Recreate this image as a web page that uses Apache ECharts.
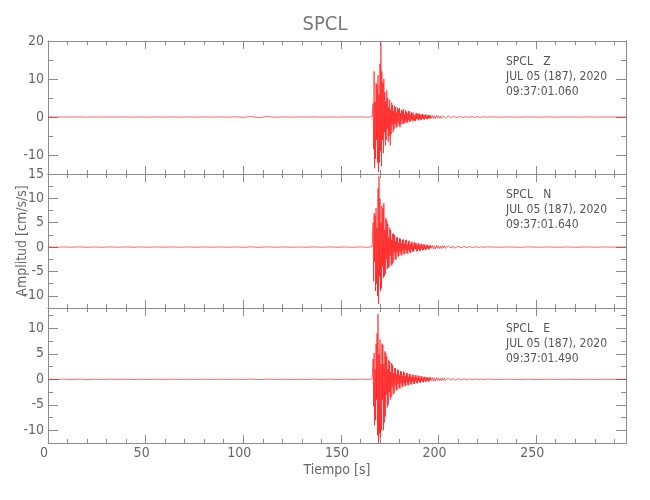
<!DOCTYPE html>
<html><head><meta charset="utf-8">
<script src="https://cdn.jsdelivr.net/npm/echarts@6/dist/echarts.min.js"></script>
<style>html,body{margin:0;padding:0;background:#fff}#c{width:650px;height:500px}</style>
</head><body><div id="c"></div>
<script>
// ---- time segments (start, step) ----
const preStart = 0, preStep = 4;
const eventStart = 166, eventStep = 0.25;
const tailStart = 196, tailStep = 0.5;
const lateStart = 226, lateStep = 5;

// ---- Z component ----
const zPre = [0.02,-0.03,0.03,-0.02,0.03,-0.03,0.02,-0.03,0.03,-0.02,
  0.03,-0.03,0.02,-0.03,0.03,-0.02,0.03,-0.03,0.02,-0.03,
  0.03,-0.02,0.03,-0.04,0.06,-0.1,0.15,-0.2,0.15,-0.08,
  0.04,-0.03,0.03,-0.02,0.03,-0.03,0.02,-0.03,0.03,-0.02,
  0.03,-0.04];
const zEvent = [
  0.1,-0.2,3.5,-8.5,  12,-13.5,4,-11,  9,-6,8.5,-12,  11,-14.5,6,-12,
  14,-9,19.5,-13,  12,-6,9,-9.5,  10,-4,6.5,-7.5,  4,-6,7,-3,
  5,-6.5,2.5,-5,  4.5,-7.5,2,-4.5,  3.8,-2,3.2,-4,  1.5,-3.2,3,-1.8,
  2.6,-2.8,1.2,-2.6,  2.5,-1.4,2,-2.2,  2.4,-2.7,1,-2,  1.9,-0.9,1.6,-1.9,
  2.1,-1.7,0.8,-1.6,  1.8,-1,1.4,-1.6,  0.9,-1.4,1.6,-0.8,  1.5,-1.3,0.7,-1.1,
  1.3,-0.6,1.0,-1.1,  1.2,-0.9,0.5,-1.0,  0.6,-1.0,1.1,-0.5,  0.9,-0.6,0.8,-0.9,
  1.0,-0.5,0.7,-0.8,  0.5,-0.7,0.7,-0.4,  0.8,-0.5,0.4,-0.7,  0.6,-0.3,0.7,-0.5,
  0.3,-0.6,0.5,-0.4,  0.5,-0.3,0.4,-0.5];
const zTail = [0.45,-0.3,0.4,-0.45,0.25,-0.4,0.4,-0.2,0.35,-0.35,
  0.2,-0.35,0.3,-0.2,0.35,-0.3,0.15,-0.3,0.3,-0.2,
  0.25,-0.15,0.25,-0.25,0.12,-0.22,0.2,-0.15,0.22,-0.18,
  0.12,-0.18,0.18,-0.1,0.15,-0.16,0.1,-0.14,0.14,-0.1,
  0.12,-0.08,0.12,-0.12,0.07,-0.1,0.1,-0.07,0.09,-0.08,
  0.06,-0.08,0.08,-0.05,0.07,-0.06,0.05,-0.06,0.06,-0.05];
const zLate = [0.04,-0.04,0.03,-0.04,0.03,-0.03,0.03,-0.03,0.02,-0.03,0.03,-0.02,0.02,-0.02,0.02];

// ---- N component ----
const nPre = [0.02,-0.03,0.03,-0.02,0.03,-0.03,0.02,-0.03,0.03,-0.02,
  0.03,-0.03,0.02,-0.03,0.03,-0.02,0.03,-0.03,0.02,-0.03,
  0.03,-0.02,0.03,-0.03,0.04,-0.05,0.06,-0.06,0.05,-0.04,
  0.03,-0.03,0.02,-0.03,0.03,-0.02,0.03,-0.03,0.02,-0.03,
  0.03,-0.04];
const nEvent = [
  0.1,-0.2,5,-7,  7,-3,6.5,-9,  8,-7.5,4,-10,  12,-11.7,14.5,-6,
  10,-9,5,-8.5,  8.5,-4,8,-6.3,  9,-6,3.5,-5.5,  6,-2.5,5.5,-4.5,
  4.8,-4.3,2,-4,  4,-1.8,3.5,-3.8,  1.5,-3.6,2.7,-3.2,  2.8,-1.2,2.5,-2.6,
  1.2,-2.5,2,-1.1,  2,-2,0.9,-1.8,  1.8,-0.9,1.7,-1.6,  0.8,-1.7,1.5,-0.7,
  1.6,-1.4,0.7,-1.5,  1.4,-0.6,1.5,-1.2,  0.6,-1.4,1.2,-0.6,  1.3,-1.1,0.6,-1.2,
  1.1,-0.5,1.0,-1.0,  0.5,-0.9,1.0,-0.5,  0.9,-0.4,0.8,-0.9,  0.4,-0.8,0.8,-0.4,
  0.7,-0.8,0.3,-0.7,  0.7,-0.3,0.6,-0.7,  0.3,-0.6,0.6,-0.3,  0.5,-0.6,0.2,-0.5,
  0.5,-0.2,0.45,-0.5,  0.2,-0.4,0.4,-0.2];
const nTail = [0.4,-0.25,0.35,-0.4,0.2,-0.35,0.35,-0.2,0.3,-0.3,
  0.18,-0.3,0.3,-0.18,0.28,-0.25,0.15,-0.25,0.25,-0.15,
  0.2,-0.2,0.22,-0.14,0.12,-0.2,0.18,-0.12,0.16,-0.15,
  0.1,-0.15,0.14,-0.1,0.12,-0.12,0.08,-0.12,0.1,-0.08,
  0.1,-0.07,0.09,-0.1,0.06,-0.08,0.08,-0.06,0.07,-0.07,
  0.05,-0.07,0.06,-0.05,0.06,-0.05,0.04,-0.05,0.05,-0.04];
const nLate = [0.04,-0.03,0.03,-0.04,0.03,-0.03,0.03,-0.03,0.02,-0.03,0.03,-0.02,0.02,-0.02,0.02];

// ---- E component ----
const ePre = [0.02,-0.03,0.03,-0.02,0.03,-0.03,0.02,-0.03,0.03,-0.02,
  0.03,-0.03,0.02,-0.03,0.03,-0.02,0.03,-0.03,0.02,-0.03,
  0.03,-0.02,0.03,-0.03,0.04,-0.05,0.06,-0.07,0.05,-0.04,
  0.03,-0.03,0.02,-0.03,0.03,-0.02,0.03,-0.03,0.02,-0.03,
  0.03,-0.04];
const eEvent = [
  0.1,-0.2,4,-5.3,  5.2,-9,2,-8,  7,-4,9,-11,  12.8,-12.6,5,-10.6,
  7.8,-11.6,3,-10,  7,-4,6.8,-10,  3,-8.5,5.5,-7.3,  5.2,-3,4.5,-5.5,
  2,-5,3.8,-2.5,  3.5,-4,1.5,-3.5,  3.2,-1.5,2.8,-3,  1.2,-2.7,2.2,-1.2,
  2.2,-2.2,1,-2.1,  1.9,-0.9,1.8,-1.8,  0.8,-1.8,1.6,-0.8,  1.5,-1.6,0.7,-1.4,
  1.5,-0.7,1.3,-1.3,  0.6,-1.3,1.2,-0.6,  1.2,-1.1,0.5,-1.2,  1.1,-0.5,1.0,-1.0,
  0.5,-1.0,0.9,-0.4,  0.9,-0.9,0.4,-0.9,  0.8,-0.4,0.8,-0.7,  0.3,-0.8,0.7,-0.3,
  0.7,-0.6,0.3,-0.7,  0.6,-0.3,0.6,-0.5,  0.2,-0.6,0.5,-0.2,  0.5,-0.5,0.2,-0.45,
  0.45,-0.2,0.4,-0.45,  0.2,-0.4,0.4,-0.15];
const eTail = [0.38,-0.25,0.35,-0.38,0.2,-0.32,0.32,-0.18,0.3,-0.28,
  0.16,-0.28,0.28,-0.16,0.25,-0.24,0.14,-0.24,0.22,-0.14,
  0.18,-0.2,0.2,-0.12,0.1,-0.18,0.16,-0.1,0.15,-0.14,
  0.09,-0.14,0.13,-0.09,0.11,-0.11,0.07,-0.11,0.09,-0.07,
  0.09,-0.06,0.08,-0.09,0.05,-0.07,0.07,-0.05,0.06,-0.06,
  0.04,-0.06,0.05,-0.04,0.05,-0.04,0.04,-0.04,0.04,-0.03];
const eLate = [0.03,-0.03,0.03,-0.03,0.02,-0.03,0.03,-0.02,0.02,-0.03,0.02,-0.02,0.02,-0.02,0.02];

// ---- axes / labels ----
const xMin = 0, xMax = 296;
const xLabelStep = 50;
const yRanges = [[-15, 20], [-12.5, 15], [-12.5, 14]];
const yMinorStep = [5, 2.5, 2.5];
const yLabelStep = [10, 5, 5];
const yMajorTicks = [[-10, 0, 10, 20], [-10, -5, 0, 5, 10, 15], [-10, -5, 0, 5, 10]];
const stationLines = [
  ['SPCL   Z', 'JUL 05 (187), 2020', '09:37:01.060'],
  ['SPCL   N', 'JUL 05 (187), 2020', '09:37:01.640'],
  ['SPCL   E', 'JUL 05 (187), 2020', '09:37:01.490']
];
const titleText = 'SPCL';
const xName = 'Tiempo [s]';
const yName = 'Amplitud [cm/s/s]';

function build(pre, ev, tail, late) {
  const d = [];
  pre.forEach((v, i) => d.push([preStart + i * preStep, v]));
  ev.forEach((v, i) => d.push([eventStart + i * eventStep, v]));
  tail.forEach((v, i) => d.push([tailStart + i * tailStep, v]));
  late.forEach((v, i) => d.push([lateStart + i * lateStep, v]));
  return d;
}
const traces = [build(zPre, zEvent, zTail, zLate), build(nPre, nEvent, nTail, nLate), build(ePre, eEvent, eTail, eLate)];

const AX = '#8c8c8c', TXT = '#666';
const FONT = "'Liberation Sans Narrow','DejaVu Sans Condensed','Liberation Sans',sans-serif";
const gridPos = [{top: 41, height: 133}, {top: 174, height: 134}, {top: 308, height: 135}];

const grid = [], xAxis = [], yAxis = [], series = [], graphic = [];
gridPos.forEach((g, i) => {
  grid.push({left: 48, right: 24, top: g.top, height: g.height, containLabel: false});
  ['bottom', 'top'].forEach(pos => {
    xAxis.push({type: 'value', gridIndex: i, position: pos, min: xMin, max: xMax, interval: 10,
      axisLine: {show: true, onZero: false, lineStyle: {color: AX, width: 1}},
      axisTick: {show: true, inside: true, length: 4, lineStyle: {color: AX}},
      splitLine: {show: false},
      axisLabel: {show: (i === 2 && pos === 'bottom'), color: TXT, fontFamily: FONT, fontSize: 14, margin: 3,
        padding: [0, 8, 0, 0],
        formatter: v => (v % xLabelStep === 0 ? String(v) : '')}
    });
    xAxis.push({type: 'value', gridIndex: i, position: pos, min: xMin, max: xMax, interval: xLabelStep,
      axisLine: {show: false, onZero: false},
      axisTick: {show: true, inside: true, length: 8, lineStyle: {color: AX}},
      splitLine: {show: false}, axisLabel: {show: false}
    });
  });
  ['left', 'right'].forEach(pos => {
    yAxis.push({type: 'value', gridIndex: i, position: pos, min: yRanges[i][0], max: yRanges[i][1], interval: yMinorStep[i],
      axisLine: {show: true, onZero: false, lineStyle: {color: AX, width: 1}},
      axisTick: {show: true, inside: true, length: 5, lineStyle: {color: AX}},
      splitLine: {show: false},
      axisLabel: {show: pos === 'left', color: TXT, fontFamily: FONT, fontSize: 14, margin: 4,
        showMinLabel: true, showMaxLabel: true,
        formatter: v => (Math.abs(v % yLabelStep[i]) < 1e-9 ? String(v) : '')}
    });
    yAxis.push({type: 'value', gridIndex: i, position: pos, min: yRanges[i][0], max: yRanges[i][1],
      axisLine: {show: false, onZero: false},
      axisTick: {show: true, inside: true, length: 10, customValues: yMajorTicks[i], lineStyle: {color: AX}},
      splitLine: {show: false}, axisLabel: {show: false}
    });
  });
  series.push({type: 'line', xAxisIndex: i * 4, yAxisIndex: i * 4, data: traces[i],
    showSymbol: false, symbol: 'none', sampling: null, animation: false, silent: true,
    lineStyle: {color: '#ff0000', width: 0.6}});
  stationLines[i].forEach((t, k) => {
    graphic.push({type: 'text', left: 506, top: g.top + 15 + k * 15,
      style: {text: t, fill: '#555', font: '12px ' + FONT}});
  });
});
graphic.push({type: 'text', left: 'center', top: 15, style: {text: titleText, fill: '#777', font: '20px ' + FONT}});
graphic.push({type: 'text', x: 337, y: 470, style: {text: xName, fill: TXT, font: '14px ' + FONT, align: 'center', verticalAlign: 'middle'}});
graphic.push({type: 'text', x: 22, y: 241, rotation: Math.PI / 2, style: {text: yName, fill: TXT, font: '14px ' + FONT, align: 'center', verticalAlign: 'middle'}});

const chart = echarts.init(document.getElementById('c'), null, {renderer: 'canvas'});
chart.setOption({animation: false, backgroundColor: '#fff', grid, xAxis, yAxis, series, graphic});
</script></body></html>
